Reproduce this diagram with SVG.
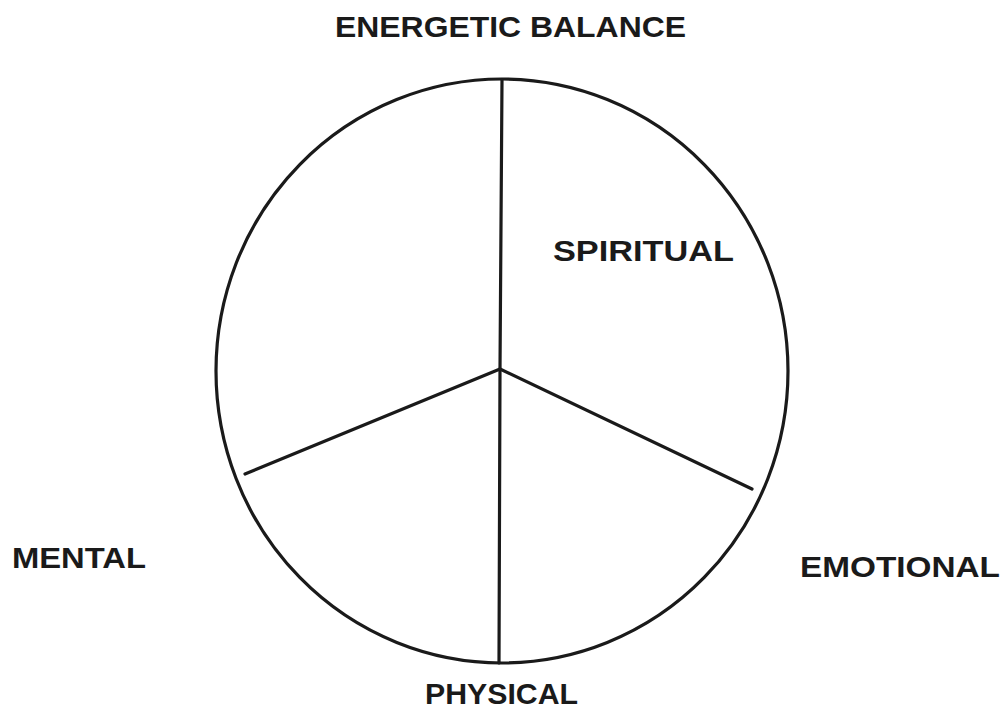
<svg xmlns="http://www.w3.org/2000/svg" width="1008" height="709" viewBox="0 0 1008 709">
<style>
.lbl{font-family:"Liberation Sans","DejaVu Sans",sans-serif;font-weight:bold;font-size:30px;fill:#1a1a1a}
.ln{stroke:#1a1a1a;stroke-width:3.2;fill:none;stroke-linecap:round}
</style>
<rect width="1008" height="709" fill="#ffffff"/>
<g id="wheel">
<ellipse class="ln" cx="502" cy="371" rx="286" ry="292"/>
</g>
<g id="connectors">
<line class="ln" x1="502" y1="80" x2="500" y2="369"/>
<line class="ln" x1="500" y1="369" x2="499" y2="663"/>
<line class="ln" x1="500" y1="369" x2="245" y2="474"/>
<line class="ln" x1="500" y1="369" x2="752" y2="489"/>
</g>
<g id="energetic"><text class="lbl" x="335" y="37" textLength="351" lengthAdjust="spacingAndGlyphs">ENERGETIC BALANCE</text></g>
<g id="spiritual"><text class="lbl" x="553" y="261" textLength="181" lengthAdjust="spacingAndGlyphs">SPIRITUAL</text></g>
<g id="mental"><text class="lbl" x="12" y="568" textLength="134" lengthAdjust="spacingAndGlyphs">MENTAL</text></g>
<g id="emotional"><text class="lbl" x="800" y="577" textLength="200" lengthAdjust="spacingAndGlyphs">EMOTIONAL</text></g>
<g id="physical"><text class="lbl" x="425" y="704" textLength="153" lengthAdjust="spacingAndGlyphs">PHYSICAL</text></g>
</svg>
